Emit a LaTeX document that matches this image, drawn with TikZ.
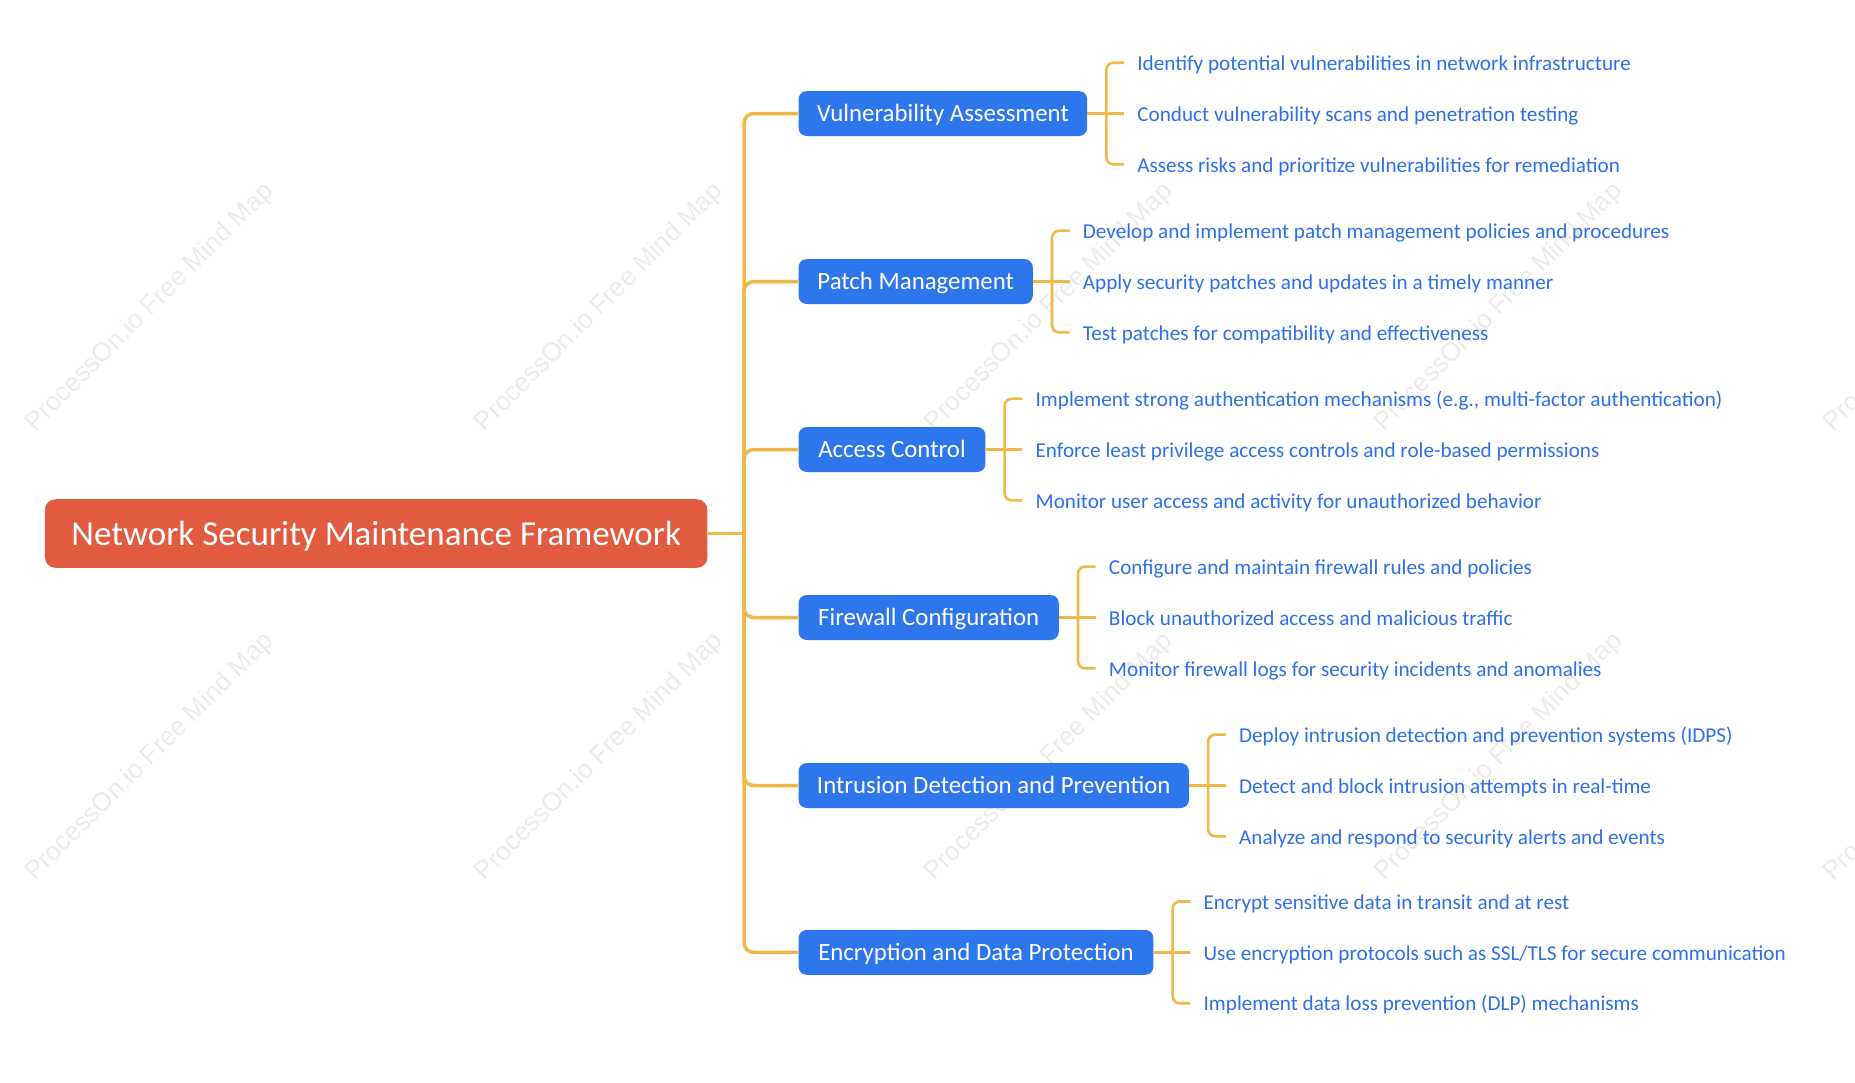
\documentclass[tikz,border=0pt]{standalone}
\usepackage{fontspec}
\setmainfont{Carlito}
\newfontfamily\wmfont{Liberation Sans}
\usetikzlibrary{calc}
\definecolor{rootc}{HTML}{E15B40}
\definecolor{bluec}{HTML}{2E76EB}
\definecolor{linec}{HTML}{F0B848}
\definecolor{leafc}{HTML}{2E6FE6}
\definecolor{wmc}{HTML}{EBEBEB}
\begin{document}
\begin{tikzpicture}[x=1pt,y=-1pt,
 rootbox/.style={fill=rootc, text=white, rounded corners=9pt, minimum width=560pt, minimum height=58pt, inner sep=0pt, text height=25pt, text depth=4pt, font=\fontsize{29.6}{34}\selectfont},
 branchbox/.style={fill=bluec, text=white, rounded corners=7pt, minimum height=38pt, inner sep=0pt, text height=18pt, text depth=4pt, font=\fontsize{21}{25}\selectfont},
 leaf/.style={anchor=west, text=leafc, inner xsep=11pt, inner ysep=2pt, text height=16.5pt, text depth=3.5pt, font=\fontsize{17.9}{21}\selectfont},
 trunk/.style={draw=linec, line width=3pt, rounded corners=8pt},
 twig/.style={draw=linec, line width=2.2pt, rounded corners=6pt},
 wm/.style={rotate=45, text=wmc, inner sep=0pt, font=\wmfont\fontsize{22}{26}\selectfont}]
\useasboundingbox (0,0) rectangle (1568,915);
\begin{scope}
\clip (0,0) rectangle (1568,915);
\foreach \cx in {127,507,887,1267,1647}{
  \foreach \cy in {260,640}{
    \node[wm] at (\cx,\cy) {ProcessOn.io Free Mind Map};
  }
}
\end{scope}

\node[rootbox] (root) at (318,451) {Network Security Maintenance Framework};

\node[branchbox, minimum width=244pt] (b1) at (797,96) {Vulnerability Assessment};
\node[branchbox, minimum width=198pt] (b2) at (774,238) {Patch Management};
\node[branchbox, minimum width=158pt] (b3) at (754,380) {Access Control};
\node[branchbox, minimum width=220pt] (b4) at (785,522) {Firewall Configuration};
\node[branchbox, minimum width=330pt] (b5) at (840,664) {Intrusion Detection and Prevention};
\node[branchbox, minimum width=300pt] (b6) at (825,805) {Encryption and Data Protection};

\coordinate (t) at (629,451);
\draw[trunk] (root.east) -- (t);
\draw[trunk] (b1.west) -| (t) |- (b6.west);
\foreach \b in {b2,b3,b4,b5}{ \draw[trunk] (\b.west) -| (t); }

% leaves
\foreach \b/\n in {b1/1,b2/2,b3/3,b4/4,b5/5,b6/6}{
  \coordinate (k\n) at ($(\b.east)+(16,0)$);
}
\node[leaf] (l11) at ($(k1)+(15,-43)$) {Identify potential vulnerabilities in network infrastructure};
\node[leaf] (l12) at ($(k1)+(15,0)$) {Conduct vulnerability scans and penetration testing};
\node[leaf] (l13) at ($(k1)+(15,43)$) {Assess risks and prioritize vulnerabilities for remediation};

\node[leaf] (l21) at ($(k2)+(15,-43)$) {Develop and implement patch management policies and procedures};
\node[leaf] (l22) at ($(k2)+(15,0)$) {Apply security patches and updates in a timely manner};
\node[leaf] (l23) at ($(k2)+(15,43)$) {Test patches for compatibility and effectiveness};

\node[leaf] (l31) at ($(k3)+(15,-43)$) {Implement strong authentication mechanisms (e.g., multi-factor authentication)};
\node[leaf] (l32) at ($(k3)+(15,0)$) {Enforce least privilege access controls and role-based permissions};
\node[leaf] (l33) at ($(k3)+(15,43)$) {Monitor user access and activity for unauthorized behavior};

\node[leaf] (l41) at ($(k4)+(15,-43)$) {Configure and maintain firewall rules and policies};
\node[leaf] (l42) at ($(k4)+(15,0)$) {Block unauthorized access and malicious traffic};
\node[leaf] (l43) at ($(k4)+(15,43)$) {Monitor firewall logs for security incidents and anomalies};

\node[leaf] (l51) at ($(k5)+(15,-43)$) {Deploy intrusion detection and prevention systems (IDPS)};
\node[leaf] (l52) at ($(k5)+(15,0)$) {Detect and block intrusion attempts in real-time};
\node[leaf] (l53) at ($(k5)+(15,43)$) {Analyze and respond to security alerts and events};

\node[leaf] (l61) at ($(k6)+(15,-43)$) {Encrypt sensitive data in transit and at rest};
\node[leaf] (l62) at ($(k6)+(15,0)$) {Use encryption protocols such as SSL/TLS for secure communication};
\node[leaf] (l63) at ($(k6)+(15,43)$) {Implement data loss prevention (DLP) mechanisms};

\foreach \b/\n in {b1/1,b2/2,b3/3,b4/4,b5/5,b6/6}{
  \draw[twig] (\b.east) -- (k\n) -- (l\n2.west);
  \draw[twig] (l\n1.west) -| (k\n) |- (l\n3.west);
}
\end{tikzpicture}
\end{document}
